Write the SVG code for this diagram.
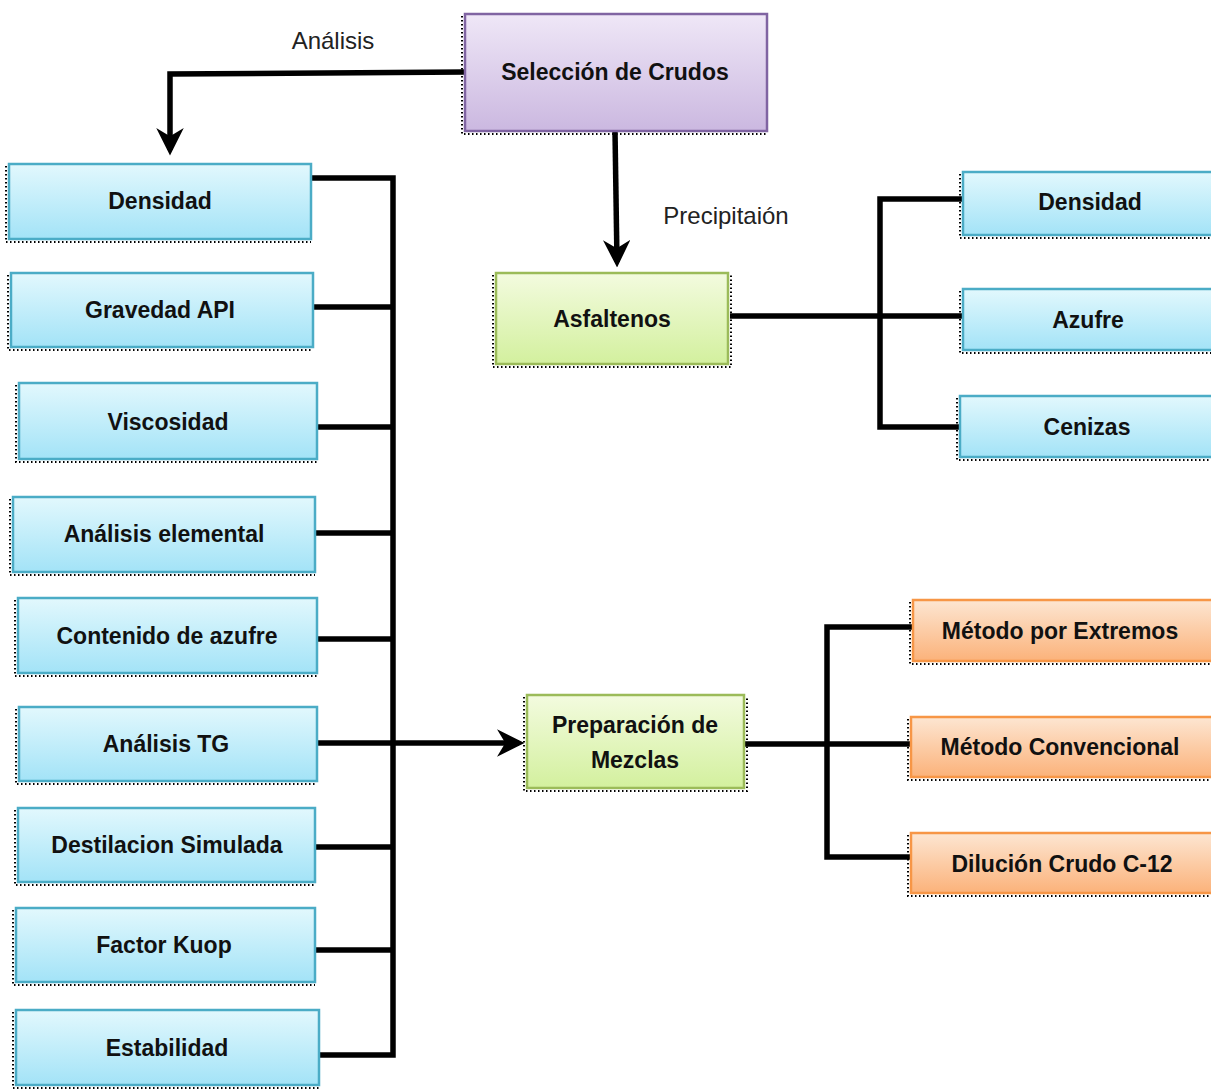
<svg xmlns="http://www.w3.org/2000/svg" width="1211" height="1090" viewBox="0 0 1211 1090">
<defs>
<linearGradient id="gBlue" x1="0" y1="0" x2="0" y2="1"><stop offset="0" stop-color="#e2f8fd"/><stop offset="1" stop-color="#a3e3f7"/></linearGradient>
<linearGradient id="gPurple" x1="0" y1="0" x2="0" y2="1"><stop offset="0" stop-color="#efe7f7"/><stop offset="1" stop-color="#cbb8e0"/></linearGradient>
<linearGradient id="gGreen" x1="0" y1="0" x2="0" y2="1"><stop offset="0" stop-color="#f3fbdf"/><stop offset="1" stop-color="#d3f09e"/></linearGradient>
<linearGradient id="gOrange" x1="0" y1="0" x2="0" y2="1"><stop offset="0" stop-color="#fde6d2"/><stop offset="1" stop-color="#fbb27a"/></linearGradient>
<marker id="arr" viewBox="0 0 10 10" refX="8" refY="5" markerWidth="5" markerHeight="5" orient="auto" markerUnits="strokeWidth">
<path d="M0,0 L10,5 L0,10 L3,5 z" fill="#000"/>
</marker>
</defs>
<style>
.blue{fill:url(#gBlue);stroke:#4bacc6;stroke-width:2.5}
.purple{fill:url(#gPurple);stroke:#8064a2;stroke-width:2.5}
.green{fill:url(#gGreen);stroke:#9bbb59;stroke-width:2.5}
.orange{fill:url(#gOrange);stroke:#f79646;stroke-width:2.5}
.sh{fill:none;stroke:#000;stroke-width:2;stroke-dasharray:1.5 2.5}
.t{font-family:"Liberation Sans",Arial,sans-serif;font-weight:bold;font-size:23px;fill:#111;text-anchor:middle;dominant-baseline:central}
.lbl{font-family:"Liberation Sans",Arial,sans-serif;font-size:24px;fill:#222;text-anchor:middle;dominant-baseline:central}
.c{fill:none;stroke:#000;stroke-width:5.5;stroke-linejoin:miter}
</style>
<g id="connectors">
<polyline class="c" points="465,72 170,74 170,150" marker-end="url(#arr)"/>
<polyline class="c" points="615,131 617,262" marker-end="url(#arr)"/>
<polyline class="c" points="311,178 393,178 393,1055 319,1055"/>
<line class="c" x1="313" y1="307" x2="393" y2="307"/>
<line class="c" x1="317" y1="427" x2="393" y2="427"/>
<line class="c" x1="315" y1="533" x2="393" y2="533"/>
<line class="c" x1="317" y1="639" x2="393" y2="639"/>
<line class="c" x1="315" y1="847" x2="393" y2="847"/>
<line class="c" x1="315" y1="950" x2="393" y2="950"/>
<polyline class="c" points="317,743 519,743" marker-end="url(#arr)"/>
<line class="c" x1="730" y1="316" x2="880" y2="316"/>
<polyline class="c" points="963,199 880,199 880,427 960,427"/>
<line class="c" x1="880" y1="316" x2="963" y2="316"/>
<line class="c" x1="744" y1="744" x2="911" y2="744"/>
<polyline class="c" points="913,627 827,627 827,857 911,857"/>
<text class="lbl" x="333" y="40">Análisis</text>
<text class="lbl" x="726" y="215">Precipitaión</text>
</g>
<g id="n-seleccion">
<path class="sh" d="M462,16 V134 H767"/>
<rect class="purple" x="465" y="14" width="302" height="117"/>
<text class="t" x="615" y="72">Selección de Crudos</text>
</g>
<g id="n-densidad">
<path class="sh" d="M6,166 V242 H311"/>
<rect class="blue" x="9" y="164" width="302" height="75"/>
<text class="t" x="160" y="201">Densidad</text>
</g>
<g id="n-gravedad">
<path class="sh" d="M8,275 V350 H313"/>
<rect class="blue" x="11" y="273" width="302" height="74"/>
<text class="t" x="160" y="310">Gravedad API</text>
</g>
<g id="n-viscosidad">
<path class="sh" d="M16,385 V462 H317"/>
<rect class="blue" x="19" y="383" width="298" height="76"/>
<text class="t" x="168" y="422">Viscosidad</text>
</g>
<g id="n-elemental">
<path class="sh" d="M10,499 V575 H315"/>
<rect class="blue" x="13" y="497" width="302" height="75"/>
<text class="t" x="164" y="534">Análisis elemental</text>
</g>
<g id="n-azufre">
<path class="sh" d="M15,600 V676 H317"/>
<rect class="blue" x="18" y="598" width="299" height="75"/>
<text class="t" x="167" y="636">Contenido de azufre</text>
</g>
<g id="n-tg">
<path class="sh" d="M16,709 V784 H317"/>
<rect class="blue" x="19" y="707" width="298" height="74"/>
<text class="t" x="166" y="744">Análisis TG</text>
</g>
<g id="n-destilacion">
<path class="sh" d="M15,810 V885 H315"/>
<rect class="blue" x="18" y="808" width="297" height="74"/>
<text class="t" x="167" y="845">Destilacion Simulada</text>
</g>
<g id="n-kuop">
<path class="sh" d="M13,910 V985 H315"/>
<rect class="blue" x="16" y="908" width="299" height="74"/>
<text class="t" x="164" y="945">Factor Kuop</text>
</g>
<g id="n-estabilidad">
<path class="sh" d="M13,1012 V1088 H319"/>
<rect class="blue" x="16" y="1010" width="303" height="75"/>
<text class="t" x="167" y="1048">Estabilidad</text>
</g>
<g id="n-asfaltenos">
<path class="sh" d="M493,275 V367 H731 V275"/>
<rect class="green" x="496" y="273" width="232" height="91"/>
<text class="t" x="612" y="319">Asfaltenos</text>
</g>
<g id="n-r-densidad">
<path class="sh" d="M960,174 V238 H1211"/>
<rect class="blue" x="963" y="172" width="252" height="63"/>
<text class="t" x="1090" y="202">Densidad</text>
</g>
<g id="n-r-azufre">
<path class="sh" d="M960,291 V353 H1211"/>
<rect class="blue" x="963" y="289" width="252" height="61"/>
<text class="t" x="1088" y="320">Azufre</text>
</g>
<g id="n-r-cenizas">
<path class="sh" d="M957,398 V460 H1211"/>
<rect class="blue" x="960" y="396" width="255" height="61"/>
<text class="t" x="1087" y="427">Cenizas</text>
</g>
<g id="n-preparacion">
<path class="sh" d="M524,697 V791 H747 V697"/>
<rect class="green" x="527" y="695" width="217" height="93"/>
<text class="t" x="635" y="725">Preparación de</text>
<text class="t" x="635" y="760">Mezclas</text>
</g>
<g id="n-extremos">
<path class="sh" d="M910,602 V664 H1211"/>
<rect class="orange" x="913" y="600" width="302" height="61"/>
<text class="t" x="1060" y="631">Método por Extremos</text>
</g>
<g id="n-convencional">
<path class="sh" d="M908,719 V780 H1211"/>
<rect class="orange" x="911" y="717" width="304" height="60"/>
<text class="t" x="1060" y="747">Método Convencional</text>
</g>
<g id="n-dilucion">
<path class="sh" d="M908,835 V896 H1211"/>
<rect class="orange" x="911" y="833" width="304" height="60"/>
<text class="t" x="1062" y="864">Dilución Crudo C-12</text>
</g>
</svg>
